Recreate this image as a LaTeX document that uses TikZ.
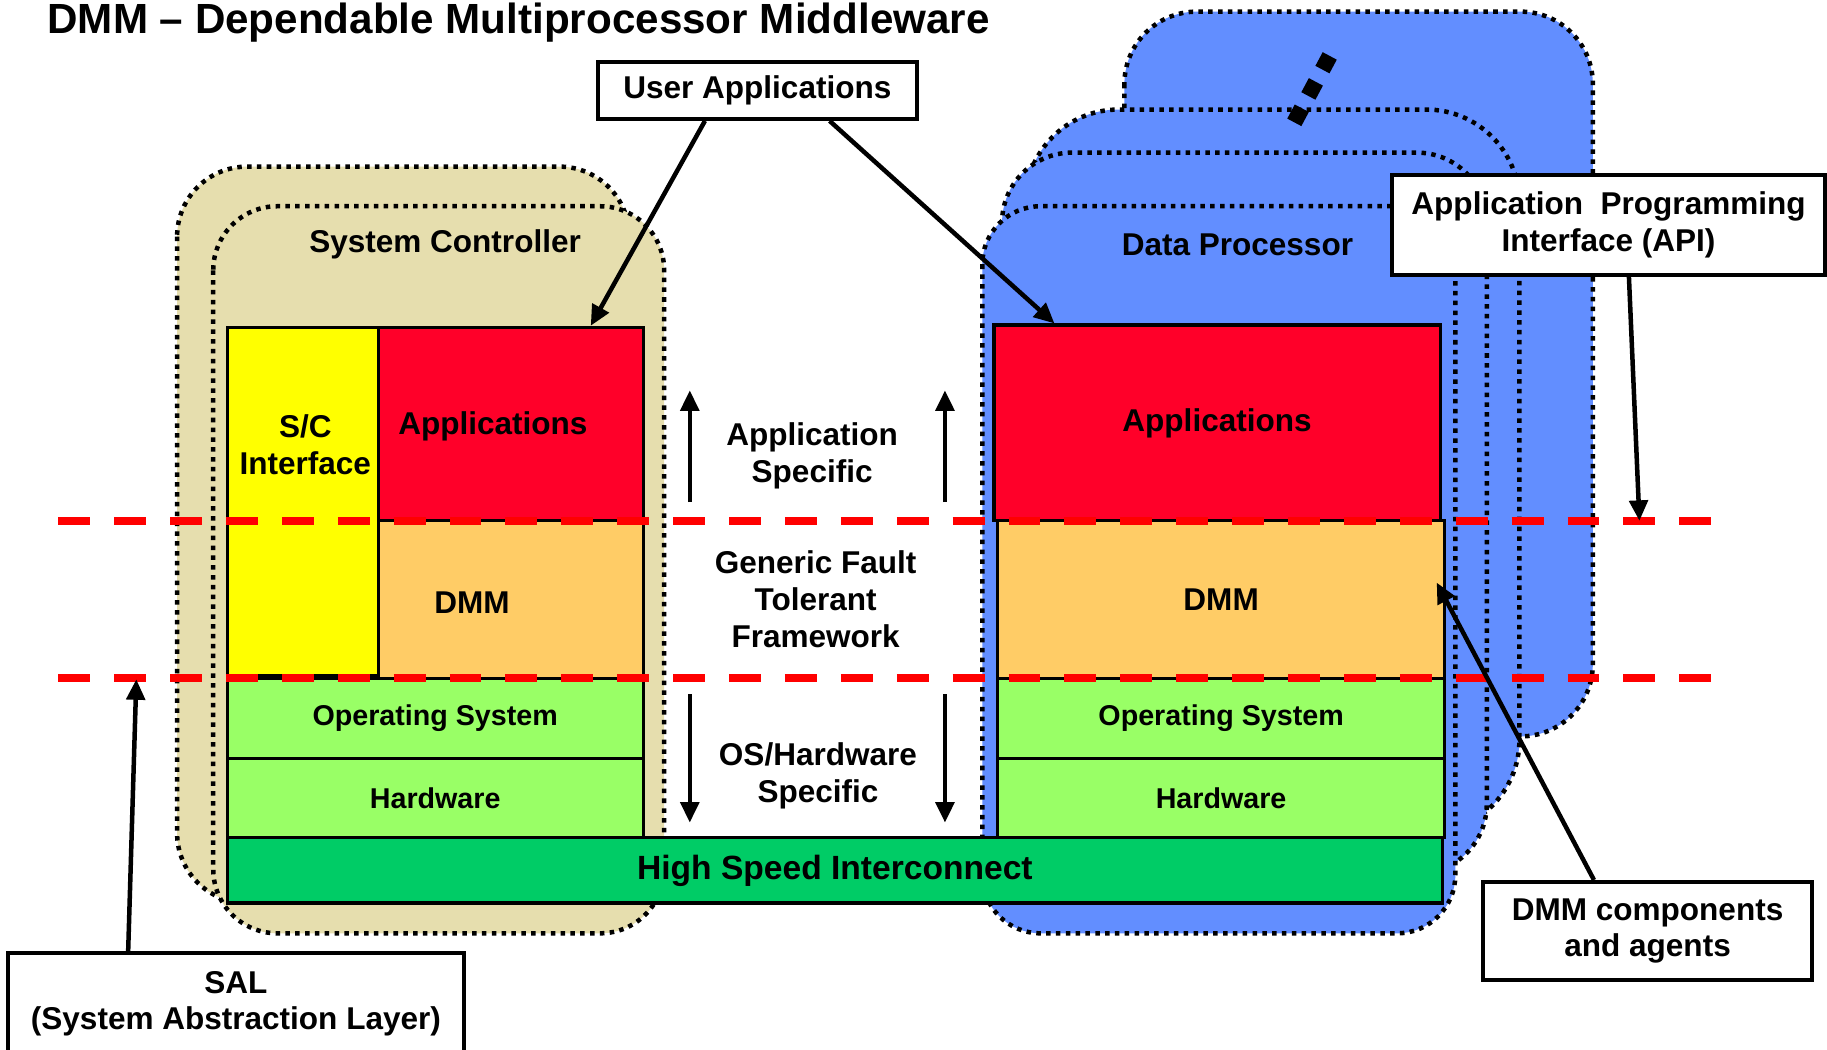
\documentclass[tikz,border=0pt]{standalone}
\usepackage{fontspec}
\setmainfont{Liberation Sans}
\usetikzlibrary{arrows.meta}
\definecolor{sctan}{RGB}{230,222,174}
\definecolor{dpblue}{RGB}{98,142,255}
\definecolor{appred}{RGB}{255,0,41}
\definecolor{dmmorange}{RGB}{255,204,102}
\definecolor{osgreen}{RGB}{153,255,102}
\definecolor{busgreen}{RGB}{0,204,102}
\definecolor{scyellow}{RGB}{255,255,0}
\definecolor{cutred}{RGB}{255,0,0}
\begin{document}
\begin{tikzpicture}[
	every node/.style={font=\bfseries\fontsize{7.7}{9}\selectfont, align=center},
	layer/.style={draw, line width=0.8pt, inner sep=0pt},
	board/.style={draw, line width=1.1pt, dash pattern=on 1.1pt off 1.3pt, rounded corners=#1},
	callout/.style={draw, fill=white, line width=1pt, inner sep=0pt},
	pointer/.style={-{Triangle[length=5pt,width=4.5pt]}, line width=1.1pt},
	cut/.style={draw=cutred, line width=1.96pt, dash pattern=on 7.8pt off 5.85pt},
	small/.style={font=\bfseries\fontsize{7.0}{8.4}\selectfont}
	]
				\useasboundingbox (0,0) rectangle (15.68,-9.01);
				%title
				\node[anchor=west, inner sep=0pt, font=\bfseries\fontsize{10.3}{12}\selectfont] (title) at (0.40,-0.19){DMM – Dependable Multiprocessor Middleware};
				
				%system controller boards
				\draw[board=0.6cm, fill=sctan] (1.52,-1.43) rectangle (5.40,-7.75);
				\draw[board=0.55cm, fill=sctan] (1.83,-1.77) rectangle (5.70,-8.01);
				\node (sctitle) at (3.82,-2.10){System Controller};
				
				%data processor boards, back to front
				\draw[board=0.62cm, fill=dpblue] (9.65,-0.10) rectangle (13.67,-6.32);
				\draw[board=0.8cm, fill=dpblue] (8.80,-0.94) rectangle (13.04,-7.15);
				\draw[board=0.6cm, fill=dpblue] (8.60,-1.31) rectangle (12.76,-7.50);
				\draw[board=0.5cm, fill=dpblue] (8.43,-1.77) rectangle (12.49,-8.01);
				\node (dptitle) at (10.62,-2.10){Data Processor};
				\draw[line width=3.9pt, dash pattern=on 3.9pt off 3.4pt] (11.108,-1.05) -- (11.412,-0.48);
				
				%system controller layers
				\node[layer, fill=scyellow, minimum width=1.30cm, minimum height=2.99cm] (scif) at (2.60,-4.305){};
				\node[layer, fill=appred, minimum width=2.27cm, minimum height=1.66cm] (scapp) at (4.385,-3.64){};
				\node[layer, fill=dmmorange, minimum width=2.27cm, minimum height=1.35cm] (scdmm) at (4.385,-5.145){};
				\node[layer, small, fill=osgreen, minimum width=3.57cm, minimum height=0.69cm] (scos) at (3.735,-6.165){Operating System};
				\node[layer, small, fill=osgreen, minimum width=3.57cm, minimum height=0.68cm] (schw) at (3.735,-6.85){Hardware};
				\node (sciftext) at (2.62,-3.82){S/C\\Interface};
				\node (scapptext) at (4.23,-3.66){Applications};
				\node (scdmmtext) at (4.05,-5.17){DMM};
				
				%data processor layers
				\node[layer, fill=appred, minimum width=3.83cm, minimum height=1.68cm] (dpapp) at (10.445,-3.63){Applications};
				\node[layer, fill=dmmorange, minimum width=3.84cm, minimum height=1.35cm] (dpdmm) at (10.48,-5.145){DMM};
				\node[layer, small, fill=osgreen, minimum width=3.84cm, minimum height=0.69cm] (dpos) at (10.48,-6.165){Operating System};
				\node[layer, small, fill=osgreen, minimum width=3.84cm, minimum height=0.68cm] (dphw) at (10.48,-6.85){Hardware};
				
				%interconnect
				\node[layer, fill=busgreen, minimum width=10.43cm, minimum height=0.56cm, font=\bfseries\fontsize{8.2}{9.6}\selectfont] (bus) at (7.165,-7.47){High Speed Interconnect};
				
				%layer cuts
				\foreach \y in {-4.47, -5.82}{
					\draw[cut] (0.50,\y) -- (14.72,\y);
				}
				
				%middle column
				\node (appspec) at (6.97,-3.91){Application\\Specific};
				\node (generic) at (7.00,-5.14){Generic Fault\\Tolerant\\Framework};
				\node (osspec) at (7.02,-6.66){OS/Hardware\\Specific};
				\foreach \x/\n in {5.92/l, 8.11/r}{
					\coordinate (up\n a) at (\x,-4.31);
					\coordinate (up\n b) at (\x,-3.35);
					\coordinate (dn\n a) at (\x,-5.96);
					\coordinate (dn\n b) at (\x,-7.06);
					\draw[pointer] (up\n a) -- (up\n b);
					\draw[pointer] (dn\n a) -- (dn\n b);
				}
				
				%callouts
				\node[callout, minimum width=2.74cm, minimum height=0.49cm] (ua) at (6.50,-0.775){User Applications};
				\node[callout, minimum width=3.71cm, minimum height=0.86cm] (api) at (13.805,-1.93){Application\ \ Programming\\Interface (API)};
				\node[callout, minimum width=3.91cm, minimum height=0.87cm] (sal) at (2.025,-8.615){SAL\\(System Abstraction Layer)};
				\node[callout, minimum width=2.82cm, minimum height=0.84cm] (dmmc) at (14.14,-7.99){DMM components\\and agents};
				
				\coordinate (apitip) at (14.07,-4.47);
				\coordinate (saltip) at (1.17,-5.83);
				\coordinate (dmmtip) at (12.33,-5.00);
				\draw[pointer] ([xshift=-0.45cm]ua.south) -- ([xshift=0.685cm]scapp.north);
				\draw[pointer] ([xshift=0.62cm]ua.south) -- ([xshift=-1.395cm]dpapp.north);
				\draw[pointer] ([xshift=0.175cm]api.south) -- (apitip);
				\draw[pointer] ([xshift=-0.925cm]sal.north) -- (saltip);
				\draw[pointer] ([xshift=-0.46cm]dmmc.north) -- (dmmtip);
			\end{tikzpicture}
\end{document}
